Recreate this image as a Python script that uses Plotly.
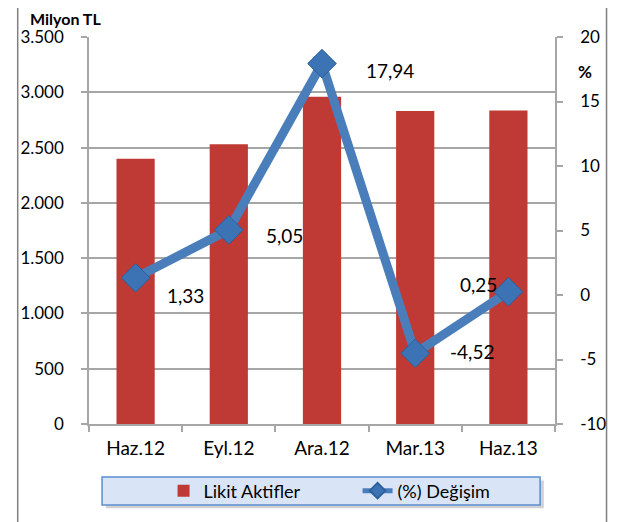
import plotly.graph_objects as go

categories = ["Haz.12", "Eyl.12", "Ara.12", "Mar.13", "Haz.13"]
likit_aktifler = [2400, 2530, 2960, 2830, 2835]
degisim = [1.33, 5.05, 17.94, -4.52, 0.25]
degisim_labels = ["1,33", "5,05", "17,94", "-4,52", "0,25"]
left_tickvals = [0, 500, 1000, 1500, 2000, 2500, 3000, 3500]
left_ticktext = ["0", "500", "1.000", "1.500", "2.000", "2.500", "3.000", "3.500"]
right_tickvals = [-10, -5, 0, 5, 10, 15, 20]
right_ticktext = ["-10", "-5", "0", "5", "10", "15", "20"]

# label offsets in screen pixels (right, down)
label_shift = [(50, 18), (56, 6), (68, 7), (57, -2), (-30, -7)]

FONT = "Lato"
FS = 17
GRID = "#a6a6a6"

fig = go.Figure()
fig.add_trace(go.Bar(
    x=categories, y=likit_aktifler, name="Likit Aktifler",
    marker=dict(color="#c03a35", line=dict(width=0)),
    width=0.41, yaxis="y",
))
fig.add_trace(go.Scatter(
    x=categories, y=degisim, name="(%) Değişim", yaxis="y2",
    mode="lines+markers",
    line=dict(color="#4a7ebb", width=9),
    marker=dict(symbol="diamond", size=22, color="#3b73b5",
                line=dict(color="#2d5f9c", width=1)),
))

for c, v, t, (dx, dy) in zip(categories, degisim, degisim_labels, label_shift):
    fig.add_annotation(x=c, y=v, xref="x", yref="y2", text=t, showarrow=False,
                       xshift=dx, yshift=-dy, font=dict(size=19, color="#000000", family=FONT))

fig.update_layout(
    width=617, height=514,
    margin=dict(l=77, r=70, t=29, b=98),
    paper_bgcolor="white", plot_bgcolor="white",
    separators=",.",
    font=dict(family=FONT, size=FS, color="#000000"),
    bargap=0.59,
    showlegend=True,
    legend=dict(orientation="h", x=0.16, xanchor="left", y=-0.173, yanchor="middle",
                bgcolor="rgba(0,0,0,0)", entrywidth=149, font=dict(size=18, family=FONT),
                traceorder="normal", itemsizing="constant"),
    xaxis=dict(showline=True, linecolor=GRID, linewidth=1.5, ticks="outside",
               tickson="boundaries", ticklen=6, tickcolor=GRID, tickwidth=1.5,
               showgrid=False, tickfont=dict(size=19), ticklabelstandoff=6),
    yaxis=dict(range=[0, 3500], tickvals=left_tickvals, ticktext=left_ticktext,
               showline=True, linecolor=GRID, linewidth=1.5, ticks="outside", ticklen=6,
               tickcolor=GRID, tickwidth=1.5, showgrid=True, gridcolor=GRID, gridwidth=1.5,
               zeroline=False, tickfont=dict(size=FS), ticklabelstandoff=14),
    yaxis2=dict(range=[-10, 20], tickvals=right_tickvals, ticktext=right_ticktext,
                overlaying="y", side="right", showline=True, linecolor=GRID, linewidth=1.5,
                ticks="outside", ticklen=6, tickcolor=GRID, tickwidth=1.5,
                showgrid=False, zeroline=False, tickfont=dict(size=FS), ticklabelstandoff=14),
)

# outer chart frame (left and right edges)
for xp in [-0.153, 1.1106]:
    fig.add_shape(type="line", xref="paper", yref="paper", x0=xp, x1=xp, y0=-0.4, y1=1.2,
                  line=dict(color="#808080", width=1.5), layer="below")

# legend box
fig.add_shape(type="rect", xref="paper", yref="paper", x0=0.036, x1=0.976, y0=-0.218, y1=-0.146,
              line=dict(width=0), fillcolor="rgba(0,0,0,0.18)", layer="below")
fig.add_shape(type="rect", xref="paper", yref="paper", x0=0.028, x1=0.968, y0=-0.209, y1=-0.137,
              line=dict(color="#5b8ed0", width=1.5), fillcolor="#d9e5f6", layer="below")

fig.add_annotation(x=-0.128, y=1.0749, xref="paper", yref="paper", text="<b>Milyon TL</b>",
                   showarrow=False, xanchor="left", yanchor="top", borderpad=0,
                   font=dict(size=16))
fig.add_annotation(x=1.064, y=0.912, xref="paper", yref="paper", text="<b>%</b>",
                   showarrow=False, xanchor="center", yanchor="middle", font=dict(size=FS))

fig.write_html("out.html")
